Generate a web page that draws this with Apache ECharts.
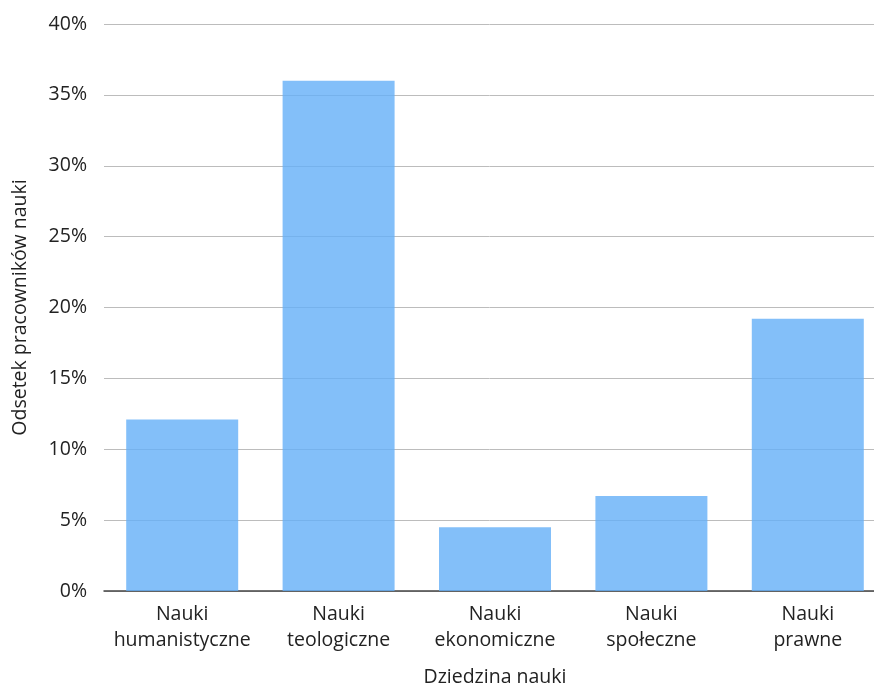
<!DOCTYPE html>
<html>
<head>
<meta charset="utf-8">
<script src="https://cdn.jsdelivr.net/npm/echarts@6/dist/echarts.min.js"></script>
<style>
  html, body { margin: 0; padding: 0; background: #fff; }
  #chart { width: 874px; height: 686px; }
</style>
</head>
<body>
<div id="chart"></div>
<script>
// Share of academic staff by field of science (%)
const categories = [
  'Nauki\nhumanistyczne',
  'Nauki\nteologiczne',
  'Nauki\nekonomiczne',
  'Nauki\nspołeczne',
  'Nauki\nprawne'
];
const shares = [12.1, 36.0, 4.5, 6.7, 19.2];

const xAxisTitle = 'Dziedzina nauki';
const yAxisTitle = 'Odsetek pracowników nauki';

const FONT = '"Open Sans", "Helvetica Neue", Arial, sans-serif';
const TEXT = '#222';
const FS = 19.5;

const chart = echarts.init(document.getElementById('chart'));
chart.setOption({
  animation: false,
  grid: {
    left: 104, right: -12, top: 24, bottom: 95,
    containLabel: false,
    outerBoundsMode: 'none'
  },
  xAxis: {
    type: 'category',
    data: categories,
    name: xAxisTitle,
    nameLocation: 'middle',
    nameGap: 76,
    nameTextStyle: { fontFamily: FONT, fontSize: FS, color: TEXT },
    axisLine: { lineStyle: { color: '#444', width: 1.5 } },
    axisTick: { show: false },
    axisLabel: {
      fontFamily: FONT, fontSize: FS, color: TEXT,
      margin: 10, lineHeight: 26, interval: 0
    }
  },
  yAxis: {
    type: 'value',
    min: 0,
    max: 40,
    interval: 5,
    name: yAxisTitle,
    nameLocation: 'middle',
    nameGap: 74,
    nameTextStyle: { fontFamily: FONT, fontSize: FS, color: TEXT },
    axisLine: { show: false },
    axisTick: { show: false },
    axisLabel: {
      fontFamily: FONT, fontSize: FS, color: TEXT, margin: 17,
      formatter: v => v + '%'
    },
    splitLine: { lineStyle: { color: '#bcbcbc', width: 1 } }
  },
  series: [{
    type: 'bar',
    data: shares,
    barWidth: 112,
    itemStyle: { color: 'rgba(100,175,248,0.8)' }
  }]
});
</script>
</body>
</html>
